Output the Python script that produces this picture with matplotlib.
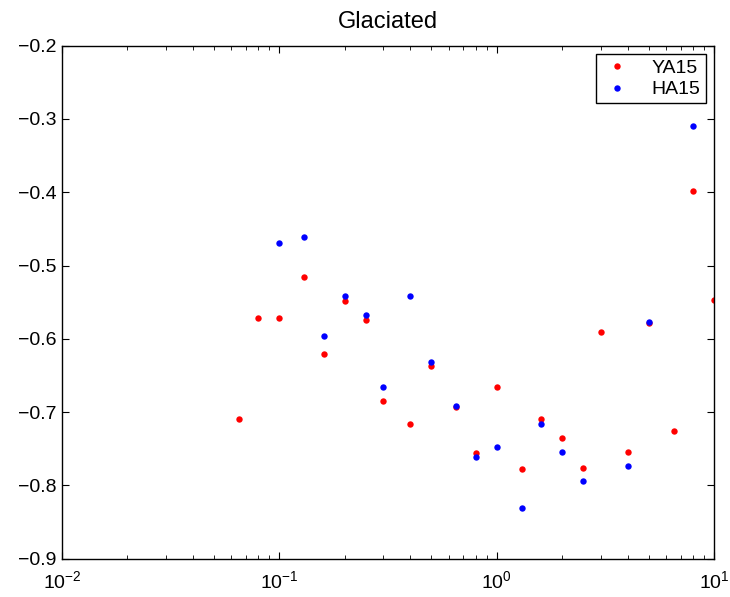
import matplotlib
matplotlib.use("Agg")
import matplotlib.pyplot as plt
from matplotlib.ticker import LogLocator

plt.rcParams['font.family'] = ['Liberation Sans', 'DejaVu Sans']
plt.rcParams['mathtext.default'] = 'regular'

# YA15 (red)
ya_x = [0.065, 0.08, 0.1, 0.13, 0.16, 0.2, 0.25, 0.3, 0.4, 0.5, 0.65, 0.8,
        1.0, 1.3, 1.6, 2.0, 2.5, 3.0, 4.0, 5.0, 6.5, 8.0, 10.0]
ya_y = [-0.710, -0.572, -0.572, -0.516, -0.621, -0.549, -0.574, -0.685, -0.716,
        -0.637, -0.693, -0.756, -0.666, -0.777, -0.709, -0.736, -0.776, -0.591,
        -0.754, -0.579, -0.726, -0.398, -0.547]

# HA15 (blue)
ha_x = [0.1, 0.13, 0.16, 0.2, 0.25, 0.3, 0.4, 0.5, 0.65, 0.8, 1.0, 1.3,
        1.6, 2.0, 2.5, 4.0, 5.0, 8.0]
ha_y = [-0.469, -0.461, -0.596, -0.542, -0.567, -0.666, -0.541, -0.632, -0.692,
        -0.761, -0.747, -0.831, -0.716, -0.755, -0.794, -0.774, -0.577, -0.310]

fig = plt.figure(figsize=(7.3, 5.97), dpi=100)
ax = fig.add_axes([0.0849, 0.0642, 0.8936, 0.8593])

ax.plot(ya_x, ya_y, 'o', color=(1, 0, 0), markersize=4.6, markeredgewidth=0, label='YA15')
ax.plot(ha_x, ha_y, 'o', color=(0, 0, 1), markersize=4.6, markeredgewidth=0, label='HA15')

ax.set_xscale('log')
ax.set_xlim(1e-2, 1e1)
ax.set_ylim(-0.9, -0.2)
ax.set_yticks([-0.9, -0.8, -0.7, -0.6, -0.5, -0.4, -0.3, -0.2])
ax.xaxis.set_major_locator(LogLocator(base=10, numticks=10))
ax.xaxis.set_minor_locator(LogLocator(base=10, subs=range(2, 10), numticks=20))

ax.tick_params(which='both', direction='in', top=True, right=True, labelsize=14)
ax.tick_params(which='major', length=5, width=0.8)
ax.tick_params(which='minor', length=3, width=0.6)
ax.tick_params(axis='x', pad=8)
ax.tick_params(axis='y', pad=4)
for s in ax.spines.values():
    s.set_linewidth(1.0)

ax.set_title('Glaciated', fontsize=17, pad=13)

leg = ax.legend(loc='upper right', fontsize=14, fancybox=False, edgecolor='black',
                framealpha=1, borderaxespad=0.45, handlelength=1.6, handletextpad=1.0,
                borderpad=0.25, labelspacing=0.2)
leg.get_frame().set_linewidth(1.0)

fig.savefig('out.png', dpi=100)
